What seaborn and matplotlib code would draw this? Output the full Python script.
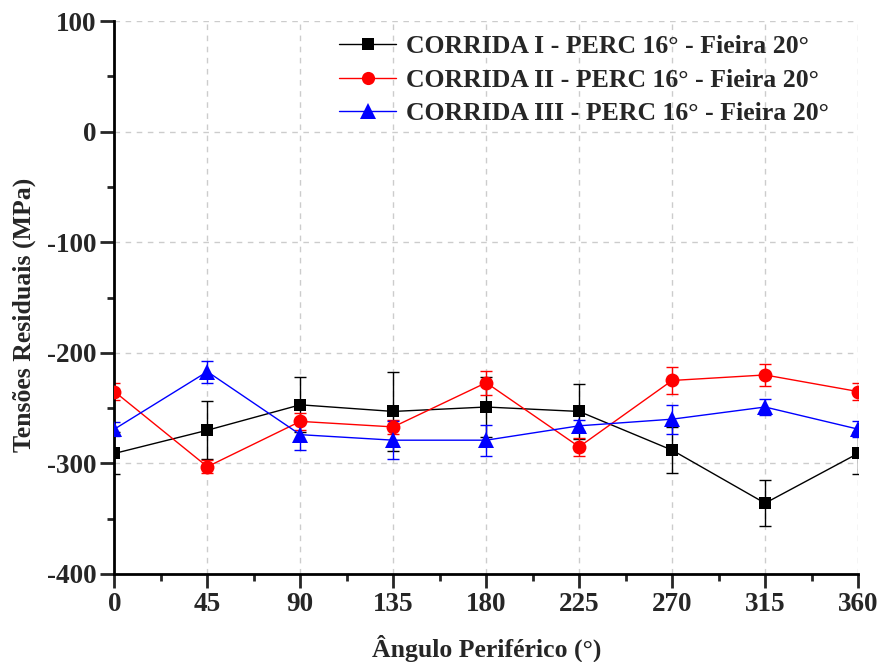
import numpy as np
import pandas as pd
import matplotlib.pyplot as plt
import seaborn as sns
from matplotlib.ticker import MultipleLocator

# Angles and measured residual stresses (MPa)
angulo = [0, 45, 90, 135, 180, 225, 270, 315, 360]

corrida1 = [-291, -270, -247, -253, -249, -253, -288, -336, -291]
erro1 = [19, 26, 25, 36, 27, 25, 21, 21, 19]

corrida2 = [-235, -303, -262, -267, -227, -285, -225, -220, -235]
erro2 = [8, 6, 8, 6, 11, 8, 12, 10, 8]

corrida3 = [-269, -217, -274, -279, -279, -266, -260, -249, -269]
erro3 = [6, 10, 14, 17, 14, 5, 13, 7, 7]

labels = ['CORRIDA I - PERC 16° - Fieira 20°',
          'CORRIDA II - PERC 16° - Fieira 20°',
          'CORRIDA III - PERC 16° - Fieira 20°']
cores = ['black', 'red', 'blue']
marcadores = ['s', 'o', '^']
tamanhos = [9, 10, 12]

df = pd.concat([
    pd.DataFrame({'Angulo': angulo, 'Tensao': c, 'Erro': e, 'Serie': l})
    for c, e, l in zip([corrida1, corrida2, corrida3], [erro1, erro2, erro3], labels)
])

sns.set_style('white')
plt.rcParams['font.family'] = ['Liberation Serif', 'DejaVu Serif']
plt.rcParams['font.weight'] = 'bold'
plt.rcParams['axes.unicode_minus'] = False

fig, ax = plt.subplots(figsize=(8.8, 6.62), dpi=100)

sns.lineplot(data=df, x='Angulo', y='Tensao', hue='Serie', style='Serie',
             palette=cores, markers=marcadores, dashes=False,
             markersize=10, markeredgewidth=0, linewidth=1, ax=ax, zorder=3)

# bigger triangles, smaller squares, like the original
for ln, tam in zip(ax.lines[:3], tamanhos):
    ln.set_markersize(tam)

for lab, cor in zip(labels, cores):
    sub = df[df['Serie'] == lab]
    ax.errorbar(sub['Angulo'], sub['Tensao'], yerr=sub['Erro'], fmt='none',
                ecolor=cor, elinewidth=1, capsize=4.5, capthick=1, zorder=2)

ax.set_xlim(0, 360)
ax.set_ylim(-400, 100)
ax.xaxis.set_major_locator(MultipleLocator(45))
ax.xaxis.set_minor_locator(MultipleLocator(22.5))
ax.yaxis.set_major_locator(MultipleLocator(100))
ax.yaxis.set_minor_locator(MultipleLocator(50))

ax.grid(True, which='major', linestyle=(0, (4, 4)), color='#cccccc', linewidth=1)
ax.set_axisbelow(True)

for s in ['top', 'right']:
    ax.spines[s].set_visible(False)
for s in ['left', 'bottom']:
    ax.spines[s].set_linewidth(2)
    ax.spines[s].set_color('black')

ax.tick_params(which='major', direction='out', length=10, width=2, labelsize=19.5,
               left=True, bottom=True, pad=3)
ax.tick_params(which='minor', direction='out', length=5, width=2, left=True, bottom=True)
for t in ax.get_xticklabels() + ax.get_yticklabels():
    t.set_fontweight('bold')

ax.set_xlabel('Ângulo Periférico (°)', fontsize=18.5, fontweight='bold', labelpad=13)
ax.set_ylabel('Tensões Residuais (MPa)', fontsize=18.5, fontweight='bold')
ax.yaxis.set_label_coords(-0.105, 0.468)

leg = ax.legend(loc='upper right', bbox_to_anchor=(0.98, 1.0), frameon=False,
                fontsize=18.5, handlelength=2.2, borderaxespad=0.15,
                labelspacing=0.4, handletextpad=0.4)
for h, tam in zip(leg.legend_handles, [8.5, 9.5, 11]):
    h.set_markersize(tam)

fig.subplots_adjust(left=0.13, right=0.975, top=0.968, bottom=0.133)
fig.savefig('out.png', dpi=100)
